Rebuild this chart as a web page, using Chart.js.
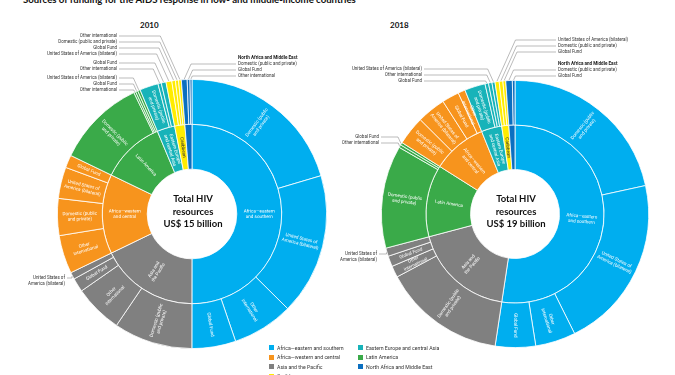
<!DOCTYPE html>
<html>
<head>
<meta charset="utf-8">
<script src="https://cdn.jsdelivr.net/npm/chart.js@4"></script>
<style>
  body { margin: 0; background: #fff; width: 675px; height: 375px; overflow: hidden; position: relative; font-family: Lato, Roboto, sans-serif; }
  canvas { position: absolute; left: 0; top: 0; }
  #title { position: absolute; left: 23px; top: -6.5px; font-weight: 700; font-size: 9.6px; white-space: nowrap; color: #111; }
  .year { position: absolute; top: 20px; font-weight: 700; font-size: 8px; color: #111; }
  .leg { position: absolute; font-family: Roboto, sans-serif; font-size: 5.2px; color: #333; white-space: nowrap; line-height: 6px; }
  .leg i { position: absolute; left: -8px; top: 0.5px; width: 5px; height: 5px; }
</style>
</head>
<body>
<div id="title">Sources of funding for the AIDS response in low- and middle-income countries</div>
<div class="year" style="left:140px">2010</div>
<div class="year" style="left:390px">2018</div>
<canvas id="c2010" width="675" height="375"></canvas>
<canvas id="c2018" width="675" height="375"></canvas>
<div id="legend"></div>
<script>
// regions, clockwise from 12 o'clock, largest first
const regions2010 = ['Africa—eastern and southern', 'Asia and the Pacific', 'Africa—western and central', 'Latin America', 'Eastern Europe and central Asia', 'Caribbean', 'North Africa and Middle East'];
const regions2018 = ['Africa—eastern and southern', 'Asia and the Pacific', 'Latin America', 'Africa—western and central', 'Eastern Europe and central Asia', 'Caribbean', 'North Africa and Middle East'];

const DOM = 'Domestic (public and private)';
const USA = 'United States of America (bilateral)';
const GF = 'Global Fund';
const OTH = 'Other international';

// funding sources inside each region (US$ million)
const sources2010 = [[DOM, USA, OTH, GF], [DOM, OTH, GF, USA], [OTH, DOM, USA, GF], [DOM, OTH, GF, USA], [DOM, OTH, GF], [USA, GF, DOM, OTH], [DOM, GF, OTH]];
const values2010 = [[3060, 2550, 1100, 790], [1420, 875, 250, 125], [690, 665, 565, 230], [1610, 35, 40, 45], [335, 60, 85], [105, 65, 55, 50], [105, 50, 35]];

const sources2018 = [[DOM, USA, OTH, GF], [DOM, OTH, GF, USA], [DOM, OTH, GF], [DOM, USA, GF, OTH], [DOM, GF, OTH, USA], [USA, DOM, GF], [DOM, GF]];
const values2018 = [[4100, 4000, 925, 925], [2815, 265, 245, 190], [2360, 65, 60], [665, 660, 395, 165], [475, 80, 80, 70], [95, 85, 65], [150, 60]];

const totals = { '2010': 'US$ 15 billion', '2018': 'US$ 19 billion' };

const legendOrder = ['Africa—eastern and southern', 'Africa—western and central', 'Asia and the Pacific', 'Caribbean', 'Eastern Europe and central Asia', 'Latin America', 'North Africa and Middle East'];

const colors = {
  'Africa—eastern and southern': '#00aeef',
  'Asia and the Pacific': '#808080',
  'Africa—western and central': '#f7941d',
  'Latin America': '#3aaa49',
  'Eastern Europe and central Asia': '#17b3b9',
  'Caribbean': '#ffec00',
  'North Africa and Middle East': '#0b6fc0'
};

const wrapped = {
  'Domestic (public and private)': 'Domestic (public\nand private)',
  'United States of America (bilateral)': 'United States of\nAmerica (bilateral)',
  'Other international': 'Other\ninternational',
  'Global Fund': 'Global Fund',
  'Africa—eastern and southern': 'Africa—eastern\nand southern',
  'Asia and the Pacific': 'Asia and\nthe Pacific',
  'Africa—western and central': 'Africa—western\nand central',
  'Latin America': 'Latin America',
  'Eastern Europe and central Asia': 'Eastern Europe\nand central Asia',
  'Caribbean': 'Caribbean'
};

// callout labels: [region, source, x, y, align, text override]
const callouts2010 = [
  [5, 3, 117, 36, 'right'], [5, 2, 117, 42, 'right'], [5, 1, 117, 48, 'right'], [5, 0, 117, 54, 'right'],
  [4, 2, 117, 63, 'right'], [4, 1, 117, 69, 'right'],
  [3, 3, 117, 78, 'right'], [3, 2, 117, 84, 'right'], [3, 1, 117, 90, 'right'],
  [6, 0, 238, 64, 'left'], [6, 1, 238, 70, 'left'], [6, 2, 238, 76, 'left'],
  [1, 3, 65, 278, 'right', 'United States of\nAmerica (bilateral)']
];
const callouts2018 = [
  [4, 3, 422, 69, 'right'], [4, 2, 422, 75, 'right'], [4, 1, 422, 81, 'right'],
  [5, 0, 558, 40, 'left'], [5, 1, 558, 46, 'left'], [5, 2, 558, 52, 'left'],
  [6, 0, 558, 70, 'left'], [6, 1, 558, 76, 'left'],
  [2, 2, 379, 137, 'right'], [2, 1, 379, 143, 'right'],
  [1, 3, 377, 254, 'right', 'United States of\nAmerica (bilateral)']
];
const headers2010 = [[238, 58]];
const headers2018 = [[558, 64]];

function drawRadial(ctx, arc, text, color) {
  const p = arc.getProps(['x', 'y', 'startAngle', 'endAngle', 'innerRadius', 'outerRadius']);
  const a = (p.startAngle + p.endAngle) / 2;
  const r = (p.innerRadius + p.outerRadius) / 2;
  const lines = text.split('\n');
  ctx.save();
  ctx.translate(p.x + r * Math.cos(a), p.y + r * Math.sin(a));
  ctx.rotate(Math.cos(a) >= -0.001 ? a : a + Math.PI);
  ctx.fillStyle = color;
  ctx.font = '4.6px Roboto';
  ctx.textAlign = 'center';
  ctx.textBaseline = 'middle';
  lines.forEach((ln, n) => ctx.fillText(ln, 0, (n - (lines.length - 1) / 2) * 5.4));
  ctx.restore();
}

function drawCallout(ctx, arc, text, tx, ty, align) {
  const p = arc.getProps(['x', 'y', 'startAngle', 'endAngle', 'outerRadius']);
  const a = (p.startAngle + p.endAngle) / 2;
  const px = p.x + (p.outerRadius + 0.5) * Math.cos(a);
  const py = p.y + (p.outerRadius + 0.5) * Math.sin(a);
  const drop = Math.max(0, py - ty) * 0.45;
  const sx = align === 'right' ? tx + 2 : tx - 2;
  const ex = align === 'right' ? px - drop : px + drop;
  ctx.save();
  ctx.strokeStyle = '#777';
  ctx.lineWidth = 0.5;
  ctx.beginPath();
  ctx.moveTo(sx, ty);
  ctx.lineTo(ex, ty);
  ctx.lineTo(px, py);
  ctx.stroke();
  ctx.fillStyle = '#333';
  ctx.font = '4.5px Roboto';
  ctx.textAlign = align;
  ctx.textBaseline = 'middle';
  text.split('\n').forEach((ln, n) => ctx.fillText(ln, tx, ty + n * 5.6));
  ctx.restore();
}

function buildChart(id, year, regions, sources, values, pad, callouts, headers) {
  const outerData = values.flat();
  const outerColors = values.flatMap((v, i) => v.map(() => colors[regions[i]]));
  const innerData = values.map(v => v.reduce((s, x) => s + x, 0));
  const innerColors = regions.map(r => colors[r]);
  const index = [];
  let k = 0;
  values.forEach(v => index.push(v.map(() => k++)));
  const isCallout = (i, j) => callouts.some(c => c[0] === i && c[1] === j);

  const labelPlugin = {
    id: 'sunLabels' + year,
    afterDatasetsDraw(chart) {
      const ctx = chart.ctx;
      const outer = chart.getDatasetMeta(0).data;
      const inner = chart.getDatasetMeta(1).data;
      values.forEach((v, i) => v.forEach((_, j) => {
        const reg = regions[i];
        if (isCallout(i, j) || reg === 'Caribbean' || reg === 'North Africa and Middle East') return;
        drawRadial(ctx, outer[index[i][j]], wrapped[sources[i][j]], '#fff');
      }));
      inner.forEach((arc, i) => {
        const reg = regions[i];
        if (reg === 'North Africa and Middle East') return;
        drawRadial(ctx, arc, wrapped[reg], reg === 'Caribbean' ? '#333' : '#fff');
      });
      callouts.forEach(c => {
        drawCallout(ctx, outer[index[c[0]][c[1]]], c[5] || sources[c[0]][c[1]], c[2], c[3], c[4]);
      });
      ctx.save();
      ctx.fillStyle = '#222';
      ctx.font = 'bold 4.6px Roboto';
      ctx.textAlign = 'left';
      ctx.textBaseline = 'middle';
      headers.forEach(h => ctx.fillText('North Africa and Middle East', h[0], h[1]));
      const c0 = inner[0].getProps(['x', 'y']);
      ctx.fillStyle = '#111';
      ctx.font = 'bold 9.5px Lato';
      ctx.textAlign = 'center';
      ['Total HIV', 'resources', totals[year]].forEach((t, n) => ctx.fillText(t, c0.x + 1, c0.y - 15 + n * 12.5));
      ctx.restore();
    }
  };

  return new Chart(document.getElementById(id), {
    type: 'doughnut',
    data: {
      labels: sources.flat(),
      datasets: [
        { data: outerData, backgroundColor: outerColors, borderColor: '#fff', borderWidth: 0.8 },
        { data: innerData, backgroundColor: innerColors, borderColor: '#fff', borderWidth: 0.8 }
      ]
    },
    options: {
      responsive: false,
      animation: false,
      events: [],
      cutout: '33.3%',
      layout: { padding: pad },
      plugins: { legend: { display: false }, tooltip: { enabled: false } }
    },
    plugins: [labelPlugin]
  });
}

buildChart('c2010', '2010', regions2010, sources2010, values2010, { left: 57, right: 348, top: 79, bottom: 26 }, callouts2010, headers2010);
buildChart('c2018', '2018', regions2018, sources2018, values2018, { left: 381, right: 26, top: 80, bottom: 27 }, callouts2018, headers2018);

// legend, two columns
const legend = document.getElementById('legend');
legendOrder.forEach((name, n) => {
  const col = n < 4 ? 0 : 1;
  const row = n < 4 ? n : n - 4;
  const d = document.createElement('div');
  d.className = 'leg';
  d.style.left = (col ? 366 : 277) + 'px';
  d.style.top = (344.5 + row * 9.6) + 'px';
  d.innerHTML = '<i style="background:' + colors[name] + '"></i>' + name;
  legend.appendChild(d);
});
</script>
</body>
</html>
